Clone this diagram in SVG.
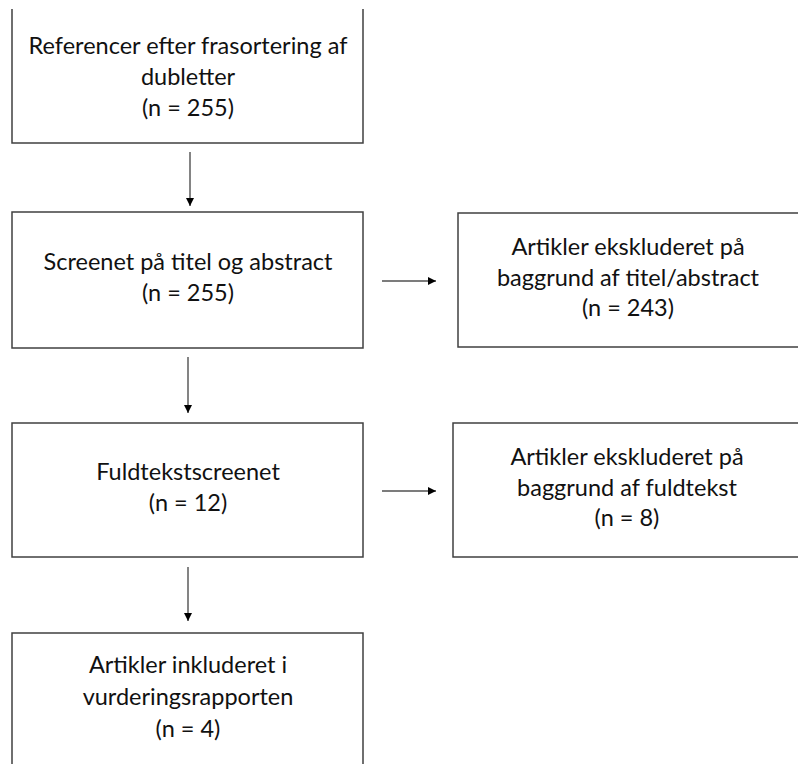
<svg xmlns="http://www.w3.org/2000/svg" width="798" height="764" viewBox="0 0 798 764">
<style>
.box{fill:#ffffff;stroke:#404040;stroke-width:1.5}
.conn{stroke:#505050;stroke-width:1.4;fill:none}
text{font-family:Lato,"Liberation Sans",Arial,sans-serif;font-size:23.5px;fill:#111111;text-anchor:middle}
</style>
<defs>
<marker id="ah" markerUnits="userSpaceOnUse" markerWidth="8" markerHeight="8" refX="8" refY="4" orient="auto">
<path d="M0,0 L8,4 L0,8 z" fill="#000000"/>
</marker>
</defs>
<rect width="798" height="764" fill="#ffffff"/>
<g id="node-referencer">
<path class="box" d="M12,9 V143 H363 V9"/>
<text x="188" y="54">Referencer efter frasortering af</text>
<text x="188" y="85">dubletter</text>
<text x="188" y="116">(n = 255)</text>
</g>
<g id="node-screenet">
<rect class="box" x="12" y="212" width="351" height="136"/>
<text x="188" y="270">Screenet på titel og abstract</text>
<text x="188" y="301">(n = 255)</text>
</g>
<g id="node-ekskl-titel">
<path class="box" d="M799,213 H458 V347 H799"/>
<text x="628" y="255">Artikler ekskluderet på</text>
<text x="628" y="286">baggrund af titel/abstract</text>
<text x="628" y="316">(n = 243)</text>
</g>
<g id="node-fuldtekst">
<rect class="box" x="12" y="423" width="351" height="134"/>
<text x="188" y="480">Fuldtekstscreenet</text>
<text x="188" y="511">(n = 12)</text>
</g>
<g id="node-ekskl-fuldtekst">
<path class="box" d="M799,423 H453 V557 H799"/>
<text x="627" y="465">Artikler ekskluderet på</text>
<text x="627" y="496">baggrund af fuldtekst</text>
<text x="627" y="526">(n = 8)</text>
</g>
<g id="node-inkluderet">
<path class="box" d="M12,765 V633 H363 V765"/>
<text x="188" y="673">Artikler inkluderet i</text>
<text x="188" y="705">vurderingsrapporten</text>
<text x="188" y="737">(n = 4)</text>
</g>
<g id="connectors">
<line class="conn" x1="190" y1="152" x2="190" y2="206" marker-end="url(#ah)"/>
<line class="conn" x1="188" y1="357" x2="188" y2="413" marker-end="url(#ah)"/>
<line class="conn" x1="188" y1="567" x2="188" y2="621" marker-end="url(#ah)"/>
<line class="conn" x1="382" y1="281" x2="436" y2="281" marker-end="url(#ah)"/>
<line class="conn" x1="382" y1="491" x2="436" y2="491" marker-end="url(#ah)"/>
</g>
</svg>
